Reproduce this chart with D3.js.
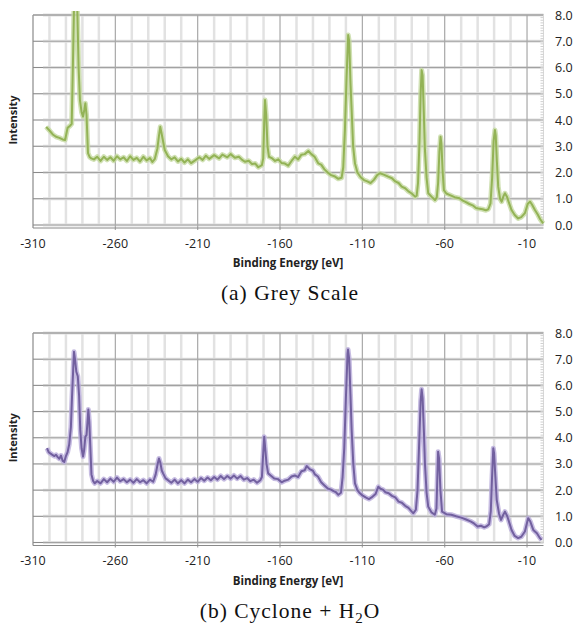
<!DOCTYPE html>
<html>
<meta charset="utf-8">
<head>
<script src="https://d3js.org/d3.v7.min.js"></script>
<style>
  body { margin: 0; background: #fff; }
  svg text { fill: #222; }
</style>
</head>
<body>
<div id="chart"></div>
<script>
// x axis ticks and y axis ticks (shared by both panels)
var xTicks = [-310, -260, -210, -160, -110, -60, -10];
var yTicks = [0, 1, 2, 3, 4, 5, 6, 7, 8];

// (a) Grey Scale spectrum
var energyA = [-302, -300, -298, -296, -294, -292, -290.5, -289, -287.5, -286.5, -285.8, -285, -284, -283.2, -282.3, -281.5, -280.5, -279.6, -278.8, -278.2, -277.5, -276.6, -275.5, -274.6,
  -273, -271, -269, -267, -265, -263, -261, -259, -257, -255, -253, -251, -249, -247, -245, -243, -241, -239, -237.5, -236, -234.5, -233.5, -232.7, -231.8, -230, -228, -226, -224, -222, -220,
  -218, -216, -214, -211.6, -209, -207, -205, -203, -200, -197, -195, -192, -190, -187.4, -185, -183, -181.3, -179, -177, -175, -173.2, -171, -170.2, -169.6, -169.1, -168.4, -167.6, -166.7,
  -165, -163, -161, -159, -157, -155, -153, -151, -149, -147, -145, -142.8, -141, -139, -136.8, -135, -133, -130.7, -129, -127, -124.6, -122.6, -121.6, -120.6, -119.6, -118.6, -118, -117.2, -116.5, -115.6, -114.5,
  -113, -111, -109, -107, -105, -103, -101, -99.3, -97, -94.3, -92, -90, -88, -86.1, -84, -82, -80, -78, -77, -76.2, -75.3, -74.6, -74, -73.4, -72.7, -72, -71, -70,
  -68, -65.9, -64.8, -64, -63.2, -62.5, -62, -61.2, -60.5, -59, -56.8, -54, -51, -49, -47.7, -45, -43, -41, -39.6, -37, -35, -33.5, -32.2, -31.2, -30.3, -29.5, -29, -28.3, -27.5, -26.4, -25.4,
  -24.3, -23.4, -22.2, -21, -19.4, -17.5, -15.4, -13.5, -11.3, -9.6, -8.2, -7, -5.2, -3.5, -2, -0.2];
var intensityA = [3.74, 3.6, 3.45, 3.36, 3.32, 3.26, 3.24, 3.7, 3.78, 3.85, 6.0, 8.6, 9.4, 8.5, 6.0, 4.76, 4.3, 4.13, 4.4, 4.64, 4.2, 2.74, 2.58, 2.54,
  2.5, 2.6, 2.44, 2.6, 2.48, 2.58, 2.45, 2.62, 2.5, 2.58, 2.44, 2.62, 2.48, 2.56, 2.42, 2.6, 2.46, 2.55, 2.4, 2.52, 2.9, 3.4, 3.74, 3.45, 2.86, 2.62, 2.5, 2.58, 2.42, 2.52,
  2.38, 2.5, 2.36, 2.46, 2.58, 2.48, 2.64, 2.52, 2.66, 2.54, 2.68, 2.58, 2.7, 2.56, 2.6, 2.48, 2.41, 2.45, 2.32, 2.34, 2.2, 2.28, 2.54, 3.9, 4.76, 4.2, 3.0, 2.6,
  2.55, 2.44, 2.5, 2.36, 2.34, 2.26, 2.44, 2.6, 2.5, 2.68, 2.7, 2.82, 2.7, 2.6, 2.35, 2.3, 2.12, 1.98, 1.9, 1.86, 1.76, 1.8, 2.2, 3.6, 5.6, 7.24, 7.0, 5.4, 4.38, 3.0, 2.35,
  2.0, 1.82, 1.71, 1.66, 1.6, 1.72, 1.9, 1.97, 1.92, 1.84, 1.78, 1.66, 1.6, 1.46, 1.4, 1.28, 1.2, 1.08, 1.12, 1.6, 3.2, 5.0, 5.9, 5.7, 4.3, 2.86, 1.8, 1.21,
  1.08, 0.95, 1.05, 1.6, 2.8, 3.36, 3.1, 2.0, 1.33, 1.2, 1.14, 1.06, 1.02, 0.93, 0.89, 0.8, 0.75, 0.65, 0.63, 0.6, 0.56, 0.6, 0.82, 1.8, 3.2, 3.62, 3.4, 2.4, 1.46, 1.0, 0.89,
  1.1, 1.21, 1.08, 0.85, 0.57, 0.38, 0.25, 0.3, 0.45, 0.8, 0.89, 0.78, 0.57, 0.4, 0.22, 0.06];

// (b) Cyclone + H2O spectrum
var energyB = [-301.5, -300.5, -299.5, -298, -297, -296, -295, -294, -293, -292, -291, -290, -289, -288, -287, -286.3, -285.6, -285.1, -284.5, -283.7, -282.8, -282, -281.3, -280.5, -279.6, -279, -278.2, -277.5, -276.9, -276.4, -275.8, -275.2, -274.5, -273.5, -272.5,
  -271, -269, -267, -265, -263, -261, -259, -257, -255, -253, -251, -249, -247, -245, -243, -241, -239, -237, -235.5, -234.3, -233.5, -232.7, -231.8, -231, -229.5, -228, -226, -224, -222, -220, -218, -216, -214, -212,
  -210, -208, -206, -204, -202, -200, -198, -196, -194, -192, -190, -188, -186, -184, -182, -180, -178, -176, -174, -172, -171, -170.3, -169.6, -169, -168.2, -167.2, -165.5, -163.5, -161.2, -159, -157.2, -155, -153, -151,
  -149, -147, -145, -143.8, -142, -140, -138.8, -137, -135, -133, -131, -129, -127.5, -126, -124.6, -123, -122, -121, -120, -119, -118.7, -118, -117.2, -116.5, -115.5, -114.5, -113, -111.5, -110, -108, -106, -104.4, -102, -100.3,
  -99, -97.5, -96, -94, -92, -90, -88, -86, -84, -82, -80, -79, -77.5, -76.5, -75.5, -74.6, -74, -73.4, -72.6, -72, -71, -70, -68, -66, -65, -64.5, -64, -63.4, -62.6, -61.6, -59, -56, -53, -50, -47, -44, -42, -40, -38, -36, -34.5,
  -33, -32, -31.3, -30.5, -30, -29.3, -28.4, -27, -25.8, -24.5, -23.4, -22, -20.5, -19.4, -17.5, -15.4, -13.5, -11.3, -10, -9.3, -8, -6.2, -4, -2.5, -1.2];
var intensityB = [3.6, 3.45, 3.4, 3.34, 3.3, 3.35, 3.26, 3.2, 3.32, 3.12, 3.08, 3.3, 3.45, 3.75, 4.4, 5.57, 6.6, 7.28, 7.0, 6.52, 6.35, 5.6, 4.3, 3.6, 3.28, 3.5, 4.04, 4.1, 4.6, 5.08, 4.6, 3.66, 2.6, 2.35, 2.26,
  2.35, 2.26, 2.42, 2.3, 2.44, 2.32, 2.48, 2.34, 2.42, 2.3, 2.4, 2.28, 2.42, 2.3, 2.38, 2.26, 2.4, 2.32, 2.6, 3.0, 3.21, 3.05, 2.75, 2.64, 2.45, 2.38, 2.28, 2.4, 2.26, 2.38, 2.26, 2.4, 2.3, 2.42,
  2.32, 2.46, 2.36, 2.48, 2.38, 2.5, 2.4, 2.54, 2.42, 2.54, 2.44, 2.56, 2.44, 2.54, 2.4, 2.46, 2.34, 2.4, 2.28, 2.38, 2.5, 3.3, 4.04, 3.6, 3.0, 2.64, 2.55, 2.44, 2.42, 2.3, 2.36, 2.4, 2.52, 2.56,
  2.5, 2.72, 2.76, 2.92, 2.8, 2.74, 2.6, 2.52, 2.3, 2.18, 2.06, 2.02, 1.96, 1.92, 1.82, 1.9, 2.5, 3.6, 5.5, 7.2, 7.37, 7.0, 5.6, 4.3, 3.0, 2.26, 2.0, 1.88, 1.8, 1.72, 1.66, 1.72, 1.85, 2.13,
  2.05, 2.02, 1.92, 1.88, 1.78, 1.72, 1.56, 1.52, 1.4, 1.32, 1.18, 1.12, 1.25, 2.0, 3.8, 5.4, 5.85, 5.5, 4.2, 3.03, 1.9, 1.37, 1.15, 1.06, 1.3, 2.4, 3.47, 3.2, 2.0, 1.18, 1.08, 1.06, 1.0, 0.95, 0.88, 0.8, 0.72, 0.61, 0.64, 0.58, 0.62,
  0.7, 1.2, 2.4, 3.6, 3.4, 2.6, 1.63, 1.1, 0.86, 1.05, 1.18, 1.0, 0.7, 0.48, 0.25, 0.17, 0.22, 0.42, 0.75, 0.93, 0.8, 0.48, 0.35, 0.2, 0.1];

var svg = d3.select("#chart").append("svg")
    .attr("width", 576)
    .attr("height", 628);

var defs = svg.append("defs");

function drawPanel(id, energy, intensity, top, bottom, core, halo, caption) {
    var x = d3.scaleLinear().domain([-310, 0]).range([33, 543.5]);
    var y = d3.scaleLinear().domain([0, 8]).range([bottom, top]);
    var g = svg.append("g");

    // minor vertical grid every 10 eV
    var minor = d3.range(-300, 0, 10).filter(function(d) { return xTicks.indexOf(d) < 0; });
    g.selectAll(".vminor").data(minor).enter().append("line")
        .attr("x1", x).attr("x2", x)
        .attr("y1", top).attr("y2", bottom)
        .attr("stroke", "#e2e2e2").attr("stroke-width", 2.5);

    // horizontal grid
    g.selectAll(".hhalo").data(yTicks).enter().append("line")
        .attr("x1", 43).attr("x2", x(0))
        .attr("y1", y).attr("y2", y)
        .attr("stroke", "#e0e0e0").attr("stroke-width", 3);
    g.selectAll(".hgrid").data(yTicks).enter().append("line")
        .attr("x1", 43).attr("x2", x(0))
        .attr("y1", y).attr("y2", y)
        .attr("stroke", "#a2a2a2").attr("stroke-width", 1.1);

    // major vertical grid
    g.selectAll(".vmajor").data(xTicks.slice(1)).enter().append("line")
        .attr("x1", x).attr("x2", x)
        .attr("y1", top).attr("y2", bottom + 5)
        .attr("stroke", "#a8a8a8").attr("stroke-width", 1.2);

    // left axis with ticks
    g.append("line").attr("x1", 33).attr("x2", 33).attr("y1", top).attr("y2", bottom + 3)
        .attr("stroke", "#8a8a8a").attr("stroke-width", 1.2);
    g.selectAll(".ltick").data(yTicks).enter().append("line")
        .attr("x1", 33).attr("x2", 43)
        .attr("y1", y).attr("y2", y)
        .attr("stroke", "#8a8a8a").attr("stroke-width", 1.1);
    g.append("line").attr("x1", 33).attr("x2", x(0)).attr("y1", top).attr("y2", top)
        .attr("stroke", "#a2a2a2").attr("stroke-width", 1.1);

    // bottom axis
    g.append("line").attr("x1", 33).attr("x2", x(0)).attr("y1", bottom + 3).attr("y2", bottom + 3)
        .attr("stroke", "#8a8a8a").attr("stroke-width", 1.2);

    // right axis with minor ticks
    g.append("line").attr("x1", x(0)).attr("x2", x(0)).attr("y1", top).attr("y2", bottom)
        .attr("stroke", "#d8d8d8").attr("stroke-width", 1);
    g.selectAll(".rtick").data(d3.range(0, 80).map(function(d) { return d / 10; })).enter().append("line")
        .attr("x1", x(0) - 3).attr("x2", x(0))
        .attr("y1", y).attr("y2", y)
        .attr("stroke", "#cfcfcf").attr("stroke-width", 1);

    // the spectrum
    defs.append("clipPath").attr("id", "clip" + id)
        .append("rect").attr("x", 33).attr("y", top - 4).attr("width", 520).attr("height", bottom - top + 10);
    var pts = energy.map(function(e, i) { return [e, intensity[i]]; });
    var line = d3.line().x(function(d) { return x(d[0]); }).y(function(d) { return y(d[1]); });
    var lg = g.append("g").attr("clip-path", "url(#clip" + id + ")");
    lg.append("path").datum(pts).attr("d", line)
        .attr("fill", "none").attr("stroke", halo).attr("stroke-width", 5)
        .attr("stroke-linejoin", "round").attr("opacity", 0.8);
    lg.append("path").datum(pts).attr("d", line)
        .attr("fill", "none").attr("stroke", core).attr("stroke-width", 2)
        .attr("stroke-linejoin", "round");

    // x tick labels
    g.selectAll(".xl").data(xTicks).enter().append("text")
        .attr("x", x).attr("y", bottom + 22.5)
        .attr("text-anchor", "middle")
        .style("font", "12.5px 'Open Sans'")
        .text(function(d) { return d; });

    // right y labels
    g.selectAll(".yl").data(yTicks).enter().append("text")
        .attr("x", 555).attr("y", function(d) { return y(d) + 4.5; })
        .style("font", "12.5px 'Open Sans'")
        .text(function(d) { return d.toFixed(1); });

    // axis titles
    g.append("text").attr("x", 288).attr("y", bottom + 42)
        .attr("text-anchor", "middle")
        .style("font", "bold 11.5px 'Open Sans'")
        .text("Binding Energy [eV]");
    g.append("text")
        .attr("transform", "translate(17," + ((top + bottom) / 2) + ")rotate(-90)")
        .attr("text-anchor", "middle")
        .style("font", "bold 11px 'Open Sans'")
        .text("Intensity");

    // caption
    var cap = g.append("text").attr("x", 290).attr("y", bottom + 75)
        .attr("text-anchor", "middle")
        .style("font", "21.5px 'Liberation Serif'")
        .style("letter-spacing", "1px")
        .style("fill", "#111");
    caption(cap);
}

drawPanel("a", energyA, intensityA, 15, 225, "#93b356", "#c6d9a2", function(t) {
    t.text("(a)  Grey Scale");
});
drawPanel("b", energyB, intensityB, 333, 542.5, "#72609f", "#b9addb", function(t) {
    t.append("tspan").text("(b)  Cyclone + H");
    t.append("tspan").attr("dy", 5).style("font-size", "15px").text("2");
    t.append("tspan").attr("dy", -5).text("O");
});
</script>
</body>
</html>
